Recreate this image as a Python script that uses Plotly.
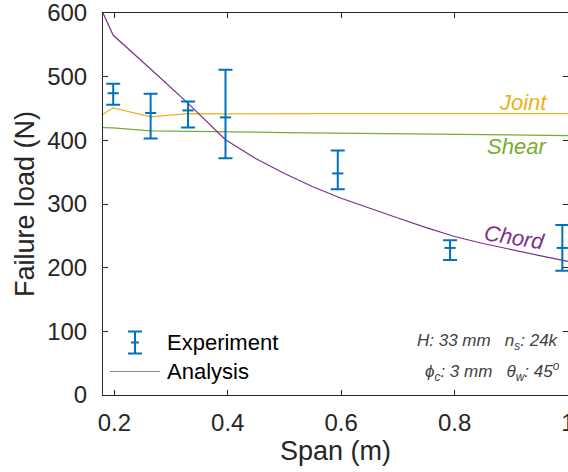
import plotly.graph_objects as go

# Measured failure loads (N) at each tested span (m)
exp_span = [0.198, 0.264, 0.33, 0.396, 0.594, 0.792, 0.99]
exp_mean = [474, 443, 447, 436, 348, 231, 231]
exp_high = [489, 473, 461, 511, 384, 243, 267]
exp_low = [456, 403, 420, 372, 323, 212, 195]

# Predicted failure loads (N) for each failure mode
ana_span = [0.18, 0.198, 0.264, 0.33, 0.396, 0.45, 0.5, 0.55, 0.6, 0.65, 0.7,
            0.75, 0.8, 0.85, 0.9, 0.95, 1.0]
joint = [441, 451, 437, 442, 441.5, 442, 442, 442, 442, 442, 442,
         442, 442, 442, 442, 442, 442]
shear = [420, 419.5, 415, 414.5, 413.5, 413, 412, 411.5, 411, 410.5, 410,
         409.5, 409, 408.5, 408, 407.8, 407.5]
chord = [600, 565, 512, 458, 401, 371, 348, 327, 309, 293, 278,
         263, 249, 238, 228, 219, 210]

x_ticks = [0.2, 0.4, 0.6, 0.8, 1.0]
x_ticktext = ["0.2", "0.4", "0.6", "0.8", "1"]
y_ticks = [0, 100, 200, 300, 400, 500, 600]

BLUE = "#0072BD"
YELLOW = "#EDB120"
GREEN = "#77AC30"
PURPLE = "#7E2F8E"
AXIS = "#262626"
FONT = "Liberation Sans, Arial, sans-serif"

W, H = 568, 472
M_L, M_R, M_T, M_B = 103, 0, 13, 77
PW, PH = W - M_L - M_R, H - M_T - M_B


def px(x):
    """Horizontal pixel -> paper fraction."""
    return (x - M_L) / PW


def py(y):
    """Vertical pixel (from top) -> paper fraction."""
    return (H - M_B - y) / PH


fig = go.Figure()

for ys, col in [(joint, YELLOW), (shear, GREEN), (chord, PURPLE)]:
    fig.add_trace(go.Scatter(x=ana_span, y=ys, mode="lines",
                             line=dict(color=col, width=1.2),
                             showlegend=False, hoverinfo="skip"))

fig.add_trace(go.Scatter(
    x=exp_span, y=exp_mean, mode="markers", name="Experiment", showlegend=False,
    marker=dict(symbol="line-ew", size=8, color=BLUE,
                line=dict(color=BLUE, width=2)),
    error_y=dict(type="data", symmetric=False,
                 array=[h - m for h, m in zip(exp_high, exp_mean)],
                 arrayminus=[m - l for m, l in zip(exp_mean, exp_low)],
                 color=BLUE, thickness=2, width=7),
))

# Failure-mode labels
fig.add_annotation(x=0.966, y=460, text="<i>Joint</i>", showarrow=False,
                   xanchor="right", yanchor="middle",
                   font=dict(size=22, color=YELLOW, family=FONT))
fig.add_annotation(x=0.966, y=390, text="<i>Shear</i>", showarrow=False,
                   xanchor="right", yanchor="middle",
                   font=dict(size=22, color=GREEN, family=FONT))
fig.add_annotation(x=0.906, y=247, text="<i>Chord</i>", showarrow=False,
                   textangle=9, xanchor="center", yanchor="middle",
                   font=dict(size=22, color=PURPLE, family=FONT))

# Geometry parameters
sp = "\u00a0\u00a0\u00a0"
fig.add_annotation(xref="paper", yref="paper", x=px(561), y=py(342),
                   text=f"<i>H: 33 mm{sp}n<sub>s</sub>: 24k</i>",
                   showarrow=False, xanchor="right", yanchor="middle",
                   font=dict(size=17, color="#404040", family=FONT))
fig.add_annotation(xref="paper", yref="paper", x=px(562), y=py(371),
                   text=f"<i>\u03d5<sub>c</sub>: 3 mm{sp}\u03b8<sub>w</sub>: 45<sup>o</sup></i>",
                   showarrow=False, xanchor="right", yanchor="middle",
                   font=dict(size=17, color="#404040", family=FONT))

# Legend: error-bar glyph and line glyph with their labels
legend_shapes = [
    dict(x0=px(135), x1=px(135), y0=py(331.5), y1=py(353.5)),
    dict(x0=px(128), x1=px(142), y0=py(331.5), y1=py(331.5)),
    dict(x0=px(128), x1=px(142), y0=py(353.5), y1=py(353.5)),
    dict(x0=px(131), x1=px(139), y0=py(342.5), y1=py(342.5)),
]
for s in legend_shapes:
    fig.add_shape(type="line", xref="paper", yref="paper",
                  line=dict(color=BLUE, width=2), **s)
fig.add_shape(type="line", xref="paper", yref="paper",
              x0=px(110), x1=px(160), y0=py(371.5), y1=py(371.5),
              line=dict(color="#8c8c8c", width=1))
for label, yy in [("Experiment", 342.5), ("Analysis", 371.5)]:
    fig.add_annotation(xref="paper", yref="paper", x=px(165), y=py(yy),
                       text=label, showarrow=False, xanchor="left",
                       yanchor="middle",
                       font=dict(size=22, color="black", family=FONT))

axis_common = dict(showline=True, linecolor=AXIS, linewidth=1, mirror="ticks",
                   ticks="inside", ticklen=5, tickcolor=AXIS, showgrid=False,
                   zeroline=False, ticklabeloverflow="allow", automargin=False,
                   tickfont=dict(size=24, color=AXIS, family=FONT))

fig.update_layout(
    width=W, height=H,
    margin=dict(l=M_L, r=M_R, t=M_T, b=M_B, autoexpand=False),
    paper_bgcolor="white", plot_bgcolor="white",
    font=dict(family=FONT, color=AXIS),
    showlegend=False,
    xaxis=dict(range=[0.18, 1.0], tickvals=x_ticks, ticktext=x_ticktext,
               title=dict(text="Span (m)", font=dict(size=27, color=AXIS), standoff=6),
               ticklabelstandoff=6, **axis_common),
    yaxis=dict(range=[0, 600], tickvals=y_ticks,
               title=dict(text="Failure load (N)", font=dict(size=27, color=AXIS), standoff=4),
               ticklabelstandoff=10, **axis_common),
)

fig.write_html("out.html")
